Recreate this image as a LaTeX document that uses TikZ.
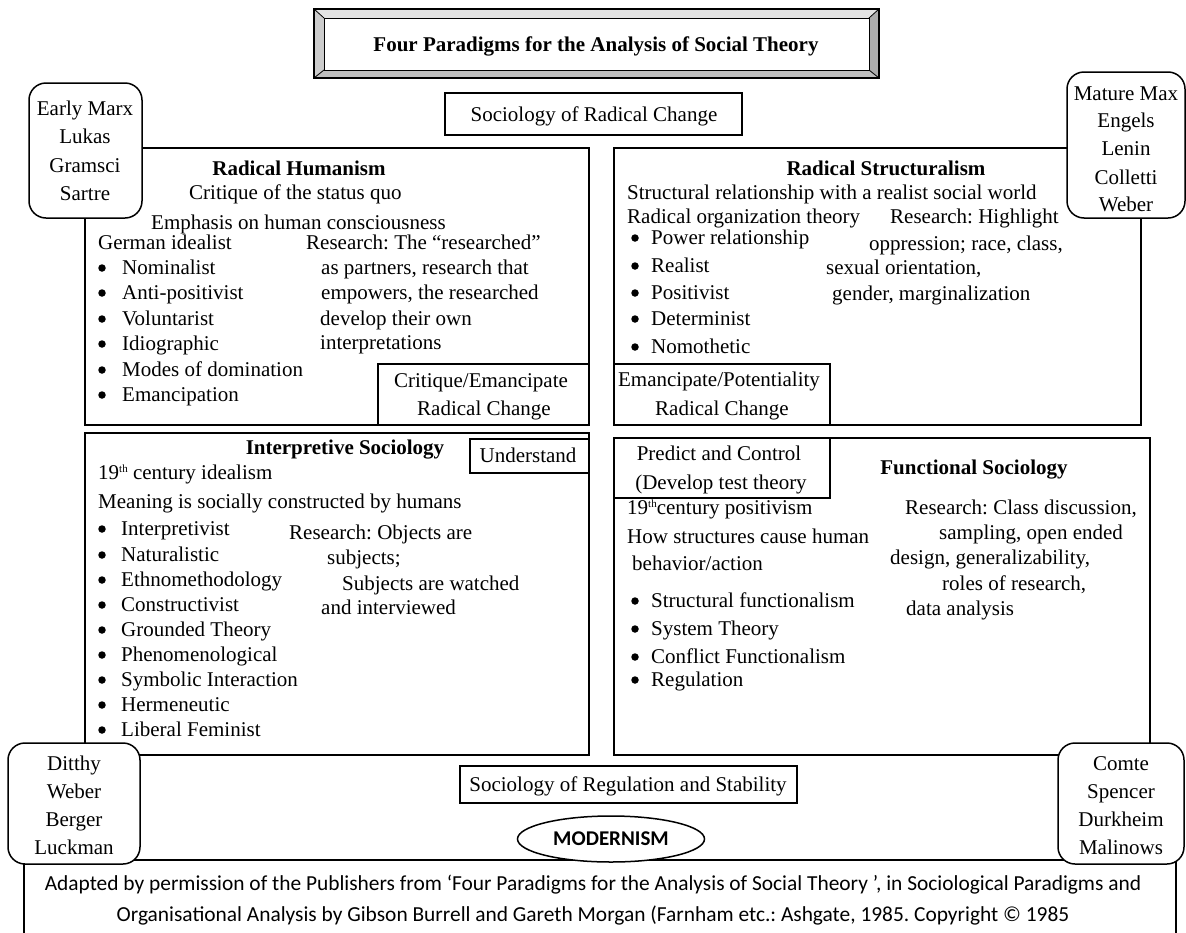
\documentclass[tikz,border=0pt]{standalone}
\usepackage{fontspec}
\setmainfont{Liberation Serif}
\newfontfamily\capfont{Carlito}
\usetikzlibrary{shapes.geometric}
\newcommand\fs{\fontsize{21}{25}\selectfont}
\newcommand\smallth{\raisebox{7pt}{\fontsize{11}{11}\selectfont th}}
\frenchspacing
\begin{document}
\begin{tikzpicture}[x=1pt,y=-1pt,
  bx/.style={draw=black, line width=1.5pt, fill=white},
  rb/.style={draw=black, line width=1.5pt, fill=white, rounded corners=17pt},
  tl/.style={anchor=base west, inner sep=0pt, font=\fs},
  tc/.style={anchor=base, inner sep=0pt, font=\fs},
  th/.style={anchor=base, inner sep=0pt, font=\fs\bfseries},
  bul/.style={circle, fill=black, inner sep=0pt, minimum size=7.5pt}]
\useasboundingbox[fill=white] (0,0) rectangle (1186,932);

% title with bevel
\fill[gray!22] (314,9) -- (879,9) -- (869,18) -- (324,18) -- cycle;
\fill[gray!40] (314,9) -- (324,18) -- (324,70) -- (314,78) -- cycle;
\fill[gray!50] (314,78) -- (324,70) -- (869,70) -- (879,78) -- cycle;
\fill[gray!65] (879,9) -- (879,78) -- (869,70) -- (869,18) -- cycle;
\draw[line width=1.5pt] (314,9) rectangle (879,78);
\draw[line width=0.8pt] (324,18) rectangle (869,70);
\draw[line width=0.8pt] (314,9)--(324,18) (879,9)--(869,18) (314,78)--(324,70) (879,78)--(869,70);
\node[th] (title) at (596,51) {Four Paradigms for the Analysis of Social Theory};

% radical change label
\draw[bx] (445,93) rectangle (742,135);
\node[tc] (rc) at (594,121) {Sociology of Radical Change};

% bottom line and caption frame
\draw[line width=1.5pt] (24,934) -- (24,860) -- (1176,860) -- (1176,934);

% quadrants
\draw[bx] (85,148) rectangle (589,425);
\draw[bx] (614,148) rectangle (1141,425);
\draw[bx] (85,433) rectangle (589,755);
\draw[bx] (614,438) rectangle (1150,755);

% inner label boxes
\draw[bx] (378,364) rectangle (589,425);
\draw[bx] (614,364) rectangle (830,425);
\draw[bx] (470,439) rectangle (589,473);
\draw[bx] (614,438) rectangle (830,498);

% corner boxes
\draw[rb] (29,83) rectangle (142,218);
\draw[rb] (1067,72) rectangle (1185,218);
\draw[rb] (8,743) rectangle (140,864);
\draw[rb] (1058,743) rectangle (1184,864);

% regulation box
\draw[bx] (460,766) rectangle (797,803);
\node[tc] (reg) at (628,791) {Sociology of Regulation and Stability};

% modernism
\node[draw, line width=1.5pt, fill=white, ellipse, minimum width=187pt, minimum height=46pt, inner sep=0pt,
  font=\capfont\fontsize{21}{24}\selectfont\bfseries] (mod) at (611,839) {MODERNISM};

% caption
\node[anchor=base, inner sep=0pt, font=\capfont\fontsize{21.4}{24}\selectfont] (cap1) at (593,890)
  {Adapted by permission of the Publishers from ‘Four Paradigms for the Analysis of Social Theory ’, in Sociological Paradigms and};
\node[anchor=base, inner sep=0pt, font=\capfont\fontsize{21.4}{24}\selectfont] (cap2) at (593,921)
  {Organisational Analysis by Gibson Burrell and Gareth Morgan (Farnham etc.: Ashgate, 1985. Copyright © 1985};

% corner names
\foreach \y/\t [count=\i] in {115/Early Marx, 143/Lukas, 172/Gramsci, 200/Sartre}
  \node[tc] (em\i) at (85,\y) {\t};
\foreach \y/\t [count=\i] in {100/Mature Max, 127/Engels, 155/Lenin, 184/Colletti, 211/Weber}
  \node[tc] (mm\i) at (1126,\y) {\t};
\foreach \y/\t [count=\i] in {770/Ditthy, 798/Weber, 826/Berger, 854/Luckman}
  \node[tc] (di\i) at (74,\y) {\t};
\foreach \y/\t [count=\i] in {770/Comte, 798/Spencer, 826/Durkheim, 854/Malinows}
  \node[tc] (co\i) at (1121,\y) {\t};

% Radical Humanism
\node[th] (h1) at (299,175) {Radical Humanism};
\node[tl] (a1) at (189,199) {Critique of the status quo};
\node[tl] (a2) at (151,229) {Emphasis on human consciousness};
\node[tl] (a3) at (98,249) {German idealist};
\foreach \y/\t [count=\i] in {274/Nominalist, 299/Anti-positivist, 325/Voluntarist, 350/Idiographic, 376/Modes of domination, 401/Emancipation}
  {\node[bul] (ab\i) at (102,\y-6) {}; \node[tl] (ai\i) at (122,\y) {\t};}
\node[tl] (ar1) at (306,249) {Research: The “researched”};
\node[tl] (ar2) at (321,274) {as partners, research that};
\node[tl] (ar3) at (321,299) {empowers, the researched};
\node[tl] (ar4) at (320,325) {develop their own};
\node[tl] (ar5) at (320,349) {interpretations};
\node[tc] (c1) at (481,387) {Critique/Emancipate};
\node[tc] (c2) at (484,415) {Radical Change};

% Radical Structuralism
\node[th] (h2) at (886,175) {Radical Structuralism};
\node[tl] (b1) at (627,199) {Structural relationship with a realist social world};
\node[tl] (b2) at (627,223) {Radical organization theory};
\node[tl] (b3) at (890,223) {Research: Highlight};
\foreach \y/\t [count=\i] in {244/Power relationship, 272/Realist, 299/Positivist, 325/Determinist, 353/Nomothetic}
  {\node[bul] (bb\i) at (635,\y-6) {}; \node[tl] (bi\i) at (651,\y) {\t};}
\node[tl] (br1) at (869,250) {oppression; race, class,};
\node[tl] (br2) at (826,274) {sexual orientation,};
\node[tl] (br3) at (832,300) {gender, marginalization};
\node[tc] (d1) at (719,386) {Emancipate/Potentiality};
\node[tc] (d2) at (722,415) {Radical Change};

% Interpretive Sociology
\node[th] (h3) at (345,454) {Interpretive Sociology};
\node[tc] (u1) at (528,462) {Understand};
\node[tl] (e1) at (98,479) {19\smallth\ century idealism};
\node[tl] (e2) at (98,508) {Meaning is socially constructed by humans};
\foreach \y/\t [count=\i] in {535/Interpretivist, 561/Naturalistic, 586/Ethnomethodology, 611/Constructivist, 636/Grounded Theory, 661/Phenomenological, 686/Symbolic Interaction, 711/Hermeneutic, 736/Liberal Feminist}
  {\node[bul] (eb\i) at (102,\y-6) {}; \node[tl] (ei\i) at (121,\y) {\t};}
\node[tl] (er1) at (289,539) {Research: Objects are};
\node[tl] (er2) at (327,564) {subjects;};
\node[tl] (er3) at (342,590) {Subjects are watched};
\node[tl] (er4) at (321,614) {and interviewed};

% Functional Sociology
\node[tc] (p1) at (719,460) {Predict and Control};
\node[tc] (p2) at (721,489) {(Develop test theory};
\node[th] (h4) at (974,474) {Functional Sociology};
\node[tl] (f1) at (627,514) {19\smallth century positivism};
\node[tl] (f2) at (627,543) {How structures cause human};
\node[tl] (f3) at (632,570) {behavior/action};
\foreach \y/\t [count=\i] in {607/Structural functionalism, 635/System Theory, 663/Conflict Functionalism, 686/Regulation}
  {\node[bul] (fb\i) at (635,\y-6) {}; \node[tl] (fi\i) at (651,\y) {\t};}
\node[tl] (fr1) at (905,514) {Research: Class discussion,};
\node[tl] (fr2) at (939,539) {sampling, open ended};
\node[tl] (fr3) at (890,564) {design, generalizability,};
\node[tl] (fr4) at (942,590) {roles of research,};
\node[tl] (fr5) at (906,615) {data analysis};
\end{tikzpicture}
\end{document}
